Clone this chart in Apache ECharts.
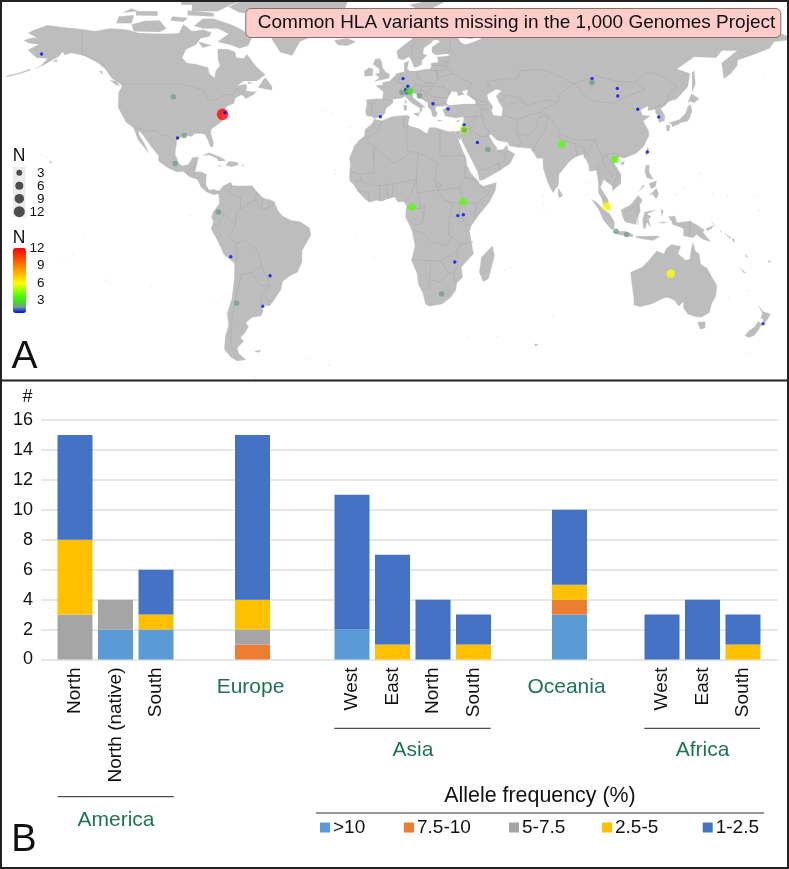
<!DOCTYPE html>
<html><head><meta charset="utf-8">
<style>html,body{margin:0;padding:0;background:#fff}#c{width:789px;height:869px}</style>
<script src="https://cdn.jsdelivr.net/npm/echarts@6/dist/echarts.min.js"></script>
</head><body><div id="c"></div>
<script>
// ---------- Panel B data ----------
const columns = ['North','North (native)','South','Europe','West','East','North','South','Oceania','West','East','South'];
const freqNames = ['>10','7.5-10','5-7.5','2.5-5','1-2.5'];
const freqColors = ['#5B9BD5','#ED7D31','#A5A5A5','#FFC000','#4472C4'];
const above10  = [0,2,2,0,2,0,0,0,3,0,0,0];
const f75to10  = [0,0,0,1,0,0,0,0,1,0,0,0];
const f5to75   = [3,2,0,1,0,0,0,0,0,0,0,0];
const f25to5   = [5,0,1,2,0,1,0,1,1,0,0,1];
const f1to25   = [7,0,3,11,9,6,4,2,5,3,4,2];
const sizeLegendValues = [3,6,9,12];
const colorLegendValues = [12,9,6,3];

// ---------- Panel A data: [lon, lat, N] ----------
const sites = [
[-159.8,60.4,1],[-98.7,44.2,2],[-75.8,37.6,12],[-74.7,38.2,1],[-96.7,28.7,1],[-93.6,29.6,2],[-97.8,19.1,2],
[-2.6,36.7,1],[7.9,51.1,1],[10.1,48.2,1],[9.1,46.9,1],[9.7,45.7,1],[7.4,45.8,2],[10.8,46.3,3],[15.5,44.5,2],
[21.8,41.6,1],[28.8,39.6,1],[36.3,33.6,1],[36.3,31.7,5],[36.3,31.7,2],[42.4,27,1],[47.3,24.3,2],[81.5,26.4,4],
[106.3,20.6,4],[95.6,51.1,1],[95.6,49.6,2],[107.3,47.4,1],[107.5,44.5,1],[116.8,39.5,1],[126.5,36.6,1],[121.3,23.4,1],
[-77.8,0.75,2],[-72,-16.1,1],[-53.8,-23.3,1],[-69.3,-33.7,2],[-57.2,-34.8,1],
[12.2,2.6,4],[35.7,4.6,4],[33.3,-0.6,1],[35.9,-0.3,1],[31.9,-18.1,1],[25.8,-30.2,2],
[102.4,2.8,6],[106.7,-6.5,2],[111.7,-7.7,2],[132.1,-22.5,6],[174.9,-41.4,1]
];

// ---------- Base map outlines, flat lon,lat lists ----------
const northAmerica=[-168,65.6,-164,66.5,-162,66.4,-163,67,-166,68.3,-163,69.5,-157,71.2,-150,70.5,-141,69.7,-135,69,-128,70,-124,69.8,-120,69.5,-115,68.3,-108,68,-100,68,-96,68.2,-94,71.5,-90,69,-85,69.5,-81,68.5,-82,67,-86,66.3,-88,64,-93,62,-94.5,59,-92.5,57,-88,56.5,-82.5,55.2,-82,52.9,-79.5,51.3,-79,54,-77,56,-78,58.7,-78,62.3,-73,62.2,-70,61,-69.5,59,-66,58.7,-64.5,60.3,-62,57.5,-60,55.5,-56,52.5,-60,50.2,-66,50.2,-69,48.5,-65,49,-64.5,48,-65,46.5,-61,46,-60,46.8,-61,45.3,-65,43.5,-66,44.3,-67,45,-70,43.7,-70.5,41.8,-74,40.6,-75.5,38,-76,36.8,-75.5,35.3,-78,33.9,-81,32,-81.4,30.5,-80,27,-80.3,25.3,-81.5,25.5,-82.7,28,-84,30,-86,30.4,-89,30.3,-90,29.2,-93.5,29.7,-97,28,-97.5,25,-97.8,22.5,-96,19,-94.5,18.2,-92,18.6,-90.5,20,-90,21.2,-87,21.5,-87.5,19.5,-88.2,17,-88.8,15.9,-86,15.9,-83.3,15,-83.6,11,-82,9,-80,9.3,-77.5,8.7,-77.5,8,-78,7.5,-80,7.3,-83,8.2,-85.7,10,-87.5,13,-91,14,-94,16,-97,15.8,-101.5,17.5,-105.5,20,-105.5,22,-109,25.5,-112.5,29.5,-114.7,31.5,-114.7,30,-112,26.5,-110,23,-112,25,-115,28,-117.1,32.5,-120.5,34.5,-122.5,37.5,-124.3,40.3,-124,46,-122.5,48,-123,49,-127,51,-130,54.5,-133.5,57,-137,58.5,-140,59.7,-146,60.8,-149,60,-150,61.2,-152,59.3,-154,58.5,-158,56.5,-163,54.8,-160,56,-157,58.7,-162,59,-165,61,-166,62,-161,64,-166,64.5];
const southAmerica=[-77.5,8.5,-75.5,10.7,-72,12,-71.5,10.8,-68,10.6,-62,10.7,-60,8.5,-57,6,-52,4.8,-50,1,-48,-0.8,-44,-2.5,-40,-2.8,-35.5,-5.2,-34.8,-8,-37,-11,-39,-14,-39,-18,-41,-22,-44,-23,-48,-25.5,-48.7,-28.5,-52,-32.5,-54,-34.7,-58,-34.2,-57,-36.5,-58,-38.5,-62,-39,-65,-41,-63.8,-42.5,-65.5,-45,-67.5,-46.5,-66,-48,-69,-50.5,-68.4,-52.5,-65,-55,-69,-55.5,-72,-54,-75,-51,-74.5,-46,-73,-42,-73.7,-37.5,-71.5,-32,-70.3,-24,-70.3,-18.5,-75,-15.5,-78.5,-9.5,-81.2,-5.5,-80,-3,-81,-1,-80,1,-78.5,2.5,-77.3,4,-77.5,7];
const africa=[-17,14.7,-16.5,19,-17,21,-14.5,26,-10,29.5,-9.7,32,-6.5,34,-5.5,35.8,-2,35.2,3,36.8,10,37.3,11,36.8,10.2,34,11,33.2,15.5,32.2,19,30.3,20,32.5,23,32.6,29,31,32,31.2,32.5,29.9,33.5,28,35.5,24,37.2,21,37.5,18.5,39.5,15.3,43.2,12,43.3,11.5,45,10.5,51.2,11.9,50.8,9,48,4.5,43,-0.5,39.5,-4.5,38.8,-6.5,39.5,-10,40.6,-15,35,-20,35.5,-24,32.8,-26,32.5,-28.5,30,-31.5,26,-34,20,-34.8,18.3,-34,17,-29.5,15,-26.5,14.4,-22.5,11.8,-17.5,13.5,-12,12,-6,9,-1,9.5,3,8.5,4.6,5.5,4.5,4,6.4,1,5.8,-2,4.8,-4.5,5.2,-7.5,4.4,-9.5,5.5,-13,8.5,-15,11,-16.8,12.5];
const sinai=[32.3,31.2,34.2,31.3,34.9,29.5,34.3,27.8,33,29,32.5,30];
const eurasia=[-9,37,-9.5,38.7,-8.8,41.8,-9.2,43.1,-4,43.5,-1.6,43.4,-1.2,46,-4.6,48.4,-1.5,48.7,-1.5,49.7,1.5,50.1,3.5,51.4,4.8,53,8.5,53.7,8.5,55.5,8.3,57,10.6,57.7,10.2,56,9.8,54.8,11,54,14,54,18.5,54.7,20,54.5,21,55.5,21,57,24,57.2,24.3,58.3,23.5,59.2,28,59.5,30,60,28,60.5,23,60,21.3,61,21.3,63,25,65,24,65.8,22,65.6,21,64.6,17.5,62.5,17.2,60.5,19,59.8,16.7,58,16.5,56.3,14.3,55.5,13,55.4,12.5,56.5,11.3,58.8,10.5,59.3,8,58.1,5.5,58.8,5,61.5,8,63.5,12,66,15,68.5,20,70,25.5,71,31,70.3,36,69.3,41,67.3,40,66,35,66.5,33,66.7,35,64.5,37,64,40,64.7,44,66,44,68.2,54,68.5,60,69,68,68.5,67,71,69,73,73,71.5,74,68,75,72,80,73.5,87,75,98,76,104.5,77.7,113,74,125,73.5,130,71,140,72.7,150,71.5,160,69.7,170,70,180,69,190,66,180,65,178,62.5,170,60,163,58,163,56,160,53,156.7,51,155.7,57,163,61.7,156,61.7,153,59,143,59.3,135,54.7,141,53,140,48,135,43.5,130.7,42.3,129.7,41,127.5,39.8,129.4,37,129.2,35.2,126.5,34.5,126.5,37,125,38,125,39.5,121.5,39,121.7,40.8,118,39.2,119,37.3,122.5,37,119.3,35,121.8,31.5,122,29.5,119.5,25.5,116,22.8,110.5,21,108,21.6,106,19,109,15,109,11.5,105,8.7,105,10.5,101,13,99.5,10,103,5.5,104,1.4,101,3,100,6,98.5,8,98.6,12,97.6,16.5,94.4,16,94,18.5,91.5,22.5,89,21.8,87,21,85,19.7,80.3,15,80,11,77.5,8,75,12,73,17,72.8,21,70,21,69,22.5,67,24.8,62,25.1,57.3,25.7,56.5,27,51.5,27.8,48.5,30.2,47.8,29.5,50,26.5,51.5,25,51.3,24.2,54,24.2,56.3,26,56.5,24.3,59.8,22.5,57.5,19,52,16,45,12.8,43.3,12.7,42.5,16,39,21.5,35,28,34.9,29.5,34.3,31.3,35,33,36,35,36,36.8,33,36.2,30.5,36.5,27.5,37,26.3,39.3,29,41,31,41.1,36,41.5,41.5,41.5,41.5,42.8,37.5,45,38,47,35,46.2,36.5,45.3,33.5,44.5,33,46,30.5,46.3,28.5,43.5,28,41.8,29,41.1,26.3,40.6,24,40.7,23,40.3,23,39,24,38,23,36.5,21.5,37,21,39,19.5,40.5,19.5,42,15.5,44,13.7,45.6,12.3,45.4,12.5,44,16,41.8,18.5,40,17,40.5,16.5,38.9,15.7,38,15.8,40,12.5,41.5,10.5,43,8.8,44.4,7,43.7,3.2,43.3,3.2,41.9,0,39.8,-0.5,38,-2,36.8,-5.5,36,-6.5,36.8];
const caspian=[47,45,51,47,53.5,46.5,51,44.5,52.5,42,54,40,53.7,37,50,37.3,49,39,49.7,40.5,47.5,43];
const australia=[113.5,-22,114,-26,115,-32,115,-34.3,118,-35,123.5,-33.9,129,-31.6,131,-31.5,134,-32.7,135.8,-34.8,138,-33,138,-35.5,140,-37.7,143.5,-38.8,146.3,-39,150,-37.3,151,-34,153,-31,153.5,-27,151,-23.5,149,-20.5,146,-19,145.3,-15,143.5,-14,142.5,-10.8,141.6,-13,141,-17,139,-17.5,135.5,-15,136.7,-12.2,132.5,-11.5,130,-13,129,-15,125.5,-14,122,-17.5,119,-20,114,-21.8];
const islands=[
[-80,73.7,-72,71.5,-68,70,-62,67,-64,63.5,-68,62.5,-72,63.8,-78,65,-73,68,-78,70,-85,70,-89,71,-85,73.7],
[-117,69,-105,68.7,-102,70,-105,73,-112,72.8,-118,71.5],[-125,72,-118,72,-117,75,-124,74.5],
[-90,76.5,-78,76.5,-72,79,-62,82,-70,83,-90,81.5],[-92,75,-80,74.5,-80,75.8,-92,76.8],[-116,75,-106,74.8,-106,76.5,-116,76.5],
[-95,79,-87,79,-88,81,-95,81],[-87,65,-81,63.7,-85,62.7],[-100,73,-94,72.5,-92,74,-99,74.5],[-122,76,-115,76.5,-118,77.5],
[-59.3,47.7,-53,46.7,-52.8,48,-56,51.5,-57.5,50],[-128,50.5,-125,50,-123.5,48.4,-125.5,48.8],[-133,54,-131.7,54,-131.5,52.5],
[-154.5,57.5,-152.3,57.5,-153,58.3],[-64,49.9,-61.8,49.3,-64,49.2],
[-165,54.2,-170,52.9,-176,51.7,-176,52.1,-170,53.3,-165,54.7],
[-85,22,-82,23.1,-77,21.5,-74.2,20.2,-77.7,19.9,-78.5,21,-82,22.3],[-74.4,18.4,-72.8,19.9,-69,19.5,-68.4,18.6,-71.5,17.8],
[-78.3,18.4,-76.3,18.1,-77,17.8],[-67.2,18.5,-65.7,18.4,-66.5,18],
[-73,78.2,-68,76,-58,75.5,-54,71,-51,69,-53,66,-49,61,-43.5,59.8,-40,65,-32,68,-22,70.5,-20,75,-18,80,-25,83,-40,83.5,-60,82,-68,80],
[-24,65.5,-18,66.3,-14,65,-18,63.5,-22.5,63.9],[-61,-51.8,-58,-51.3,-59,-52.3],
[49.3,-12,50.4,-15.5,47.5,-24.5,45,-25.5,43.3,-22,44.3,-16.3],
[-5.5,50,1.3,51.2,1.7,52.7,0,53.5,-1.5,55,-2,57.5,-3,58.7,-5,58.5,-6,56.5,-3.2,54.8,-3,53.3,-5,52.7,-3,51.4],
[-10,52,-6.2,52.2,-6,54.7,-8,55.2,-10,54],[12.5,38,15.5,38.2,15,36.7],[8.2,41,9.7,41,9.5,39.2,8.5,39],[8.6,42.5,9.5,43,9.3,41.5],
[23.6,35.5,26.2,35.2,24.5,34.9],[32.5,35,34.5,35.6,33.5,34.6],[11,79,20,80.5,27,80,20,77,15,77],
[52,71,57,70.7,60,75,68,77,60,76.2,54,74],[80,9.7,82,7,80.5,6,79.8,7.5],
[131,34.3,136,35.6,139,38,140,40.5,141.3,41.3,142,39,140.8,36,139.8,35,136.8,34.5,135,33.5,132.5,34],
[130,33.5,131.8,33.5,131.3,31.3,130.3,31.3],[132.5,33.8,134.5,34.2,134,33.4,132.9,32.8],[140,42,141.7,45.4,145.3,43.5,143,42,141,42.5],
[142,46,143.5,49,143,54,142,53.5,142,50],[120.2,23,121.5,25.2,121.8,24.5,120.8,22],[108.7,19.2,110.7,20,110,18.3],
[120,16,120.6,18.5,122.2,18.4,122,16,124,13,121,13.7],[122,7,125.5,9.7,126.5,7.5,125.4,5.7,123.5,7.5],[122,11.5,125.5,12.5,125,10.3,123,9.5],[117.3,8.5,119.5,11.2,119.7,10.5],
[109,1.5,111.3,2.5,113,3.2,115,5,117,7,119,5.2,117.7,3.5,118,1,116.5,-1.5,116,-4,111,-3,110,-1.5],
[95.3,5.6,98,4.2,100.5,2,103.8,0,106,-3,105.8,-5.8,104.5,-5.8,101,-2.5,98.7,1.7],
[105.2,-6.8,108,-6.5,111,-6.5,114.5,-7.7,114.5,-8.7,108,-7.8],[116,-8.4,119,-8.4,123,-8.3,125,-8.3,127,-8.5,124,-10,120,-9.5,116,-9],
[119.5,-5.5,119,-2.5,120,0.8,125,1.5,121,0,123,-1,121.8,-2,122.8,-5,121,-3,120.4,-5.5],
[127.5,2,128.7,1,128,-0.8],[126,-3.2,130.5,-3,129,-3.5],
[131,-1,134,-0.8,135,-3.3,141,-2.6,145,-4.5,147.8,-6,147,-6.8,150.5,-10.5,147,-9.5,144,-7.7,142.5,-9,138,-8.3,138,-5.5,133,-4,132.5,-2.8],
[148.5,-5.6,152,-4.2,151,-5.6,149,-6.3],[150.8,-2.7,152.8,-4.5,152,-3.7],[155,-6,156,-7,155.5,-6.9],[157,-7.2,160,-9,159.5,-9.3],[161,-9,162,-10.7,160.5,-9.8],
[164,-20.2,167,-22.3,166,-22.2],[166.8,-15,167.8,-16.5,167,-16.2],[177.3,-17.5,178.7,-18,177.5,-18.3],
[144.7,-40.7,148.2,-40.8,148,-43,146,-43.5,145,-42],
[172.8,-34.5,174.8,-36.8,178.4,-37.7,176.8,-40,175.2,-41.6,174.8,-39.5,173.8,-39.2,174.6,-37.5],
[172.7,-40.5,174.3,-41.7,172.8,-43.8,170.7,-45.9,168.3,-46.6,166.5,-45.9,168.5,-44,171,-42.5],
[68.8,-49,70.5,-49.2,69.5,-49.9],[-156,20.2,-155,19.7,-155.7,19]
];
const specks=[-157.9,21.4,-159.5,22,-149.5,-17.6,-145,-15,-140,-9,-171.8,-13.8,-175.2,-21.1,-91,-0.5,-78.8,-33.6,-109.3,-27.1,-130,-25,-25.5,37.8,-28,38.6,-16.5,28.3,-14,28.5,-16.9,32.7,-24,15,-23.5,16.7,-14.4,-7.9,-5.7,-16,57.5,-20.2,55.5,-21.1,73,4,73.3,-0.6,72.4,7,93,12,93.5,7.5,145.7,15.2,144.8,13.5,134.5,7.4,138,9.5,151.8,7.5,158.2,6.9,171,7,173,1.3,167.4,-29,159,-31.5,-178,-30,168.6,-52.5,78,-38.5,37.7,-46.8,51.7,-46.4,-37,-54.3,-26.5,-57,-60.5,-62,175,52.5];

// ---------- Country borders, flat lon,lat lists ----------
const borders=[
[-141,69.7,-141,60.2,-137,59,-134,58,-130,55.5],[-123,49,-95,49,-89.5,48,-84.5,46.5,-82.5,43,-79,43,-75,45,-71,45,-69,47.4,-67.5,45.5],
[-117.1,32.5,-114.7,32.5,-111,31.3,-106.5,31.7,-104,29.5,-101,29.7,-97.2,25.9],[-92.2,14.5,-91,17,-89.1,17.9,-88.3,18.4],[-89.1,17.9,-89.2,15.9],[-89.2,15.9,-89.2,14],[-87.7,13.2,-85,15],[-83.7,11,-85.7,11],[-83,8.3,-82.8,9.6],[-77.3,8.7,-77.8,7.3],
[-71.5,11.5,-72.5,8,-67.5,6,-67.5,2,-67,1.7],[-67,1.7,-69.5,1,-70,-4.2],[-70,-4.2,-75,-0.2,-78.8,1.4],[-75,-0.2,-78.5,-4.5,-80.3,-3.4],[-70,-4.2,-73,-9,-69.5,-11],[-69.5,-11,-69,-16,-70,-17.8],[-70.3,-18.3,-69,-17.5],[-69.5,-11,-65.3,-10,-60,-13.5,-58,-17.5,-58,-20],[-58,-20,-62.5,-22],[-62.5,-22,-67,-23],[-67,-23,-70,-32,-71.5,-40,-72,-50,-69,-52],[-62.5,-22,-58,-27,-54.6,-27],[-58,-20,-55,-24,-54.6,-25.5],[-54.6,-25.5,-54,-27,-57.6,-30],[-57.6,-30,-53.4,-33.5],[-57.6,-30,-58.3,-34],[-67,1.7,-64,4,-60.7,5.2],[-60.7,5.2,-60,8.5],[-60.7,5.2,-58,1.5],[-58,1.5,-54.5,2.3,-52,3.8],[-57,6,-58,1.8],[-54,5.8,-54.5,2.3],
[-1.6,43.4,3.2,42.4],[-8.8,41.9,-6.5,41.8,-7,37.2],[2.5,51,6,49.5,8.2,49,7.6,47.6,6,46.3,7.5,45.8,7.5,43.8],[6,51,7,53.3],[3.4,51.4,6,51,6,49.5],[14.2,54,15,51],[15,51,12.2,50.2,13.8,48.7],[7.6,47.6,13,47.6,13.8,48.7],[7.5,45.8,12,47,13.7,46.5,13.7,45.6],[13.8,48.7,17,48.7,16.2,46.8,13.7,46.5],[15,51,19,49.5,22.7,49,24,51,23.5,54,19,54.4],[17,48.7,19,49.5],[17,48,22,48.4],[16.2,46.8,19,46,22,48],[22,48,26.5,48.3,28.2,45.5,29.7,45.2],[22.5,44.2,28.5,43.7],[19,46,22.5,44.2,22.5,41.3,26.3,41.5,28,42],[13.7,45.6,19,44.8,19,46],[15.8,44.5,19,42.5],[19.5,42,20.5,40],[20.5,40,23,41.3],[19.5,42,22.5,42.2],
[21,56.2,28,56],[24.3,58,28,57.5],[22.5,54.3,27,54,28,56],[23.5,54,24,51.5,31,53,28,56],[31,53,35,51,40,49.5,38,47],[26.5,48.3,30,46],[28,56,30,60],
[12,60,12.5,64,18,68.5,21,69,25,69,29,69.8],[24,65.8,21,69],[29,69.8,30,62,28,60.5],
[49,46.5,47,50,55,51,61,51,62,54,72,54.5,77,53.3,87,49.2],[87,49.2,98,52,107,50,116,49.8],[116,49.8,120,53.3,126,53,135,48.3,131,45,130.7,42.3],[87.8,49.2,91,45.5,96,42.7,105,41.7,112,44.5,120,47,116,49.8],[87,49.2,80.5,45,80,42.2],[52.5,42,56,45,61,44,66,41,70,42,74,43,80,42.2],[54,37.5,61,35.5,66,37.3,71,38.3,75,37.2],[74,40,80,42.2],[66,41,62,43.5],[56,41.3,60,42],[71,38.3,74,40],
[75,37.2,79,33,81,30,88,27.8,92,28,97,28,98,25,101,21.3,102,22.5,106,23,108,21.6],[81,30,80,28.7,88,26.4],[88,26.4,88.5,22],[89,26,92,25,92,21],[61,35.5,60.8,30,63,27,61.5,25.2],[61,29.8,66,29.8,70,33,71,36.5,75,37.2],[75,37,74,32,70,27,68.3,23.8],[97,28,94,24,92.5,21.5],[101,21.3,98,18,99,11],[101,21.3,100.5,19.5,105,14.5,102.5,12],[102,22.5,105,18.5,107.5,15,105.5,10.8],[100.2,6.5,102,6.2],
[44.5,37.3,46,33,48.5,30],[36,36.5,44.5,37],[44.5,37.2,44.3,39.5,41.5,41.5],[41.5,41.5,44.3,41,47,41.5],[40,43.5,47.5,42],[44.3,39.5,48,39.5],[42,37,41,34.5,39,32.2],[35,29.5,39,32.2,44,29.2,47.8,29.5],[36,32.3,39,32.2],[35.7,33,42,37],[43,16.5,47,17,52,19,55,20,56,24],[52,19,53,16.5],[52,24,55.5,22.5],[124.5,40,130.7,42.3],[126.5,38,128.5,38.5],
[-2,35,-4,31,-8.7,28.7,-13,27.7],[-8.7,27.3,-5,25,-6,21],[-5,25,1,21,4,19],[4,19,12,23.5],[10,33,9.5,30,10,24,12,23.5],[8.5,37,8,33,10,33],[12,23.5,15,23,24,19.5],[25,31.6,25,22],[25,22,36.8,22],[24,19.5,22.5,13,24,9],[-12,15,-5.5,15.5,-6,25],[-16.5,16,-12,15,-11.5,12.5,-15,12.3],[3.5,11.5,14,13,15,23],[14,13,11,6.7,8.5,4.6],[2.7,6.3,3.5,11.5],[1,5.8,0,11],[-3,5,-3,11],[-11.5,12.5,-5,10.5,3.5,11.5],[-13,9,-8,8,-8,4.5],[14,13,15,8,24,9,27.5,5,34,4,36,4.5],[15,8,16,2,9.8,2.3],[16,2,18,3.5,17,-3.5,13,-4.5],[27.5,5,31,3.7,29.5,-1.3,29,-8,30.5,-8.3],[34,4,34,-1,37.5,-3.3,39.2,-4.7],[29.5,-1.3,34,-1],[30.5,-8.3,34.5,-11.5,40.5,-10.5],[34.5,-11.5,33,-14],[12.3,-6,17,-7,22,-11,24,-11,28,-12,30.5,-8.3],[11.8,-17.3,23.5,-17.7,25,-17.8],[25,-17.8,30,-15.7,33,-14],[33,-14,33,-20,31.3,-22.3],[25.3,-17.8,29,-22.2,31.3,-22.3],[20.9,-18.3,20,-24.7,20,-28.3,16.5,-28.6],[20,-24.7,25,-25.7,29,-22.2],[31.3,-22.3,32,-26.5],[43,11,48,8,42,4,41,-1.5],[36,4.5,42,4],[36.8,14,34,10,36,4.5],[36.8,18,36.8,14,43,12.3],[24,9,25.5,11,22.5,13],[34,10,24,9],
[28,-28.6,29.4,-29,29.2,-30,28,-30.4,27,-29.6,28,-28.6],
[141,-2.6,141,-9],[117,-4,116.5,4.2,114,2,111,1]
];

// ---------- Helpers (geometry conversion, no chart values) ----------
const pairs=a=>{const r=[];for(let i=0;i<a.length;i+=2)r.push([a[i],a[i+1]]);return r;};
const feat=(name,flat)=>{const ring=pairs(flat);ring.push(ring[0]);return {type:'Feature',properties:{name},geometry:{type:'Polygon',coordinates:[ring]}};};
const features=[feat('North America',northAmerica),feat('South America',southAmerica),feat('Africa',africa),feat('Sinai',sinai),feat('Eurasia',eurasia),feat('Australia',australia)];
islands.forEach((p,i)=>features.push(feat('island'+i,p)));
pairs(specks).forEach((p,i)=>{const r=0.35;features.push(feat('speck'+i,[p[0]-r,p[1],p[0],p[1]+r,p[0]+r,p[1],p[0],p[1]-r]));});
features.push(feat('Caspian',caspian));
echarts.registerMap('world',{type:'FeatureCollection',features});

const FONT='"Liberation Sans",Arial,sans-serif';
const GREEN='#1F7350';
const sizeForN=n=>n<=1?3.4:n<=2?5.5:n<=4?7.5:n<=6?8.5:3+n*0.72;
const rampColors=['#0000ff','#6f9f88','#3fe020','#55ff00','#aaff00','#ffff00','#ffd500','#ffaa00','#ff8000','#ff5500','#ff2a00','#ff0000'];

// five bar panels laid out side by side, sharing one value scale
const groups=[{from:0,to:3,left:54.75,w:121.5,strong:false},{from:3,to:4,left:232.25,w:40.5,strong:true,pad:4},{from:4,to:8,left:331.75,w:162,strong:false},{from:8,to:9,left:549.25,w:40.5,strong:true,pad:6},{from:9,to:12,left:641.75,w:121.5,strong:false}];
const freqData=[above10,f75to10,f5to75,f25to5,f1to25];
const GT=420,GH=239.5;
const grid=[{left:41,width:737,top:GT,height:GH}],xAxis=[{gridIndex:0,type:'value',show:false,min:0,max:1}],
 yAxis=[{gridIndex:0,type:'value',min:0,max:16,interval:2,axisLine:{show:false},axisTick:{show:false},
  axisLabel:{fontFamily:FONT,fontSize:18,color:'#111',margin:8},splitLine:{show:true,lineStyle:{color:'#dedede',width:1.5}}}];
const series=[
 {type:'lines',coordinateSystem:'geo',polyline:true,silent:true,z:2,lineStyle:{color:'#aaaaaa',width:0.6,opacity:1},data:borders.map(b=>({coords:pairs(b)}))},
 {type:'scatter',coordinateSystem:'geo',silent:true,z:3,data:sites,symbolSize:v=>sizeForN(v[2]),itemStyle:{opacity:0.78}}
];
groups.forEach((g,i)=>{
 const k=i+1;
 grid.push({left:g.left,width:g.w,top:GT,height:GH});
 xAxis.push({gridIndex:k,type:'category',data:columns.slice(g.from,g.to),axisLine:{show:false},axisTick:{show:false},
  axisLabel:g.strong?{interval:0,fontFamily:FONT,fontSize:21,color:GREEN,margin:17,padding:[0,g.pad,0,0]}:{interval:0,rotate:90,fontFamily:FONT,fontSize:19,color:'#111',margin:8,padding:[3,0,0,0]}});
 yAxis.push({gridIndex:k,type:'value',min:0,max:16,interval:2,show:false,splitLine:{show:false}});
 freqNames.forEach((n,j)=>series.push({type:'bar',name:n,xAxisIndex:k,yAxisIndex:k,stack:'g'+k,barWidth:35,silent:true,
  itemStyle:{color:freqColors[j]},data:freqData[j].slice(g.from,g.to)}));
});
const legendX=[320,404,509,602,702.7];
const legend=freqNames.map((n,i)=>({data:[n],left:legendX[i],top:818,padding:0,itemWidth:10,itemHeight:10,itemGap:0,icon:'rect',selectedMode:false,
 textStyle:{fontFamily:FONT,fontSize:19,color:'#111',padding:[0,0,0,-2]}}));

const txt=(text,x,y,size,color,align)=>({type:'text',z:20,x,y,silent:true,style:{text,font:size+'px '+FONT,fill:color||'#111',align:align||'center',verticalAlign:'middle'}});
const seg=(x1,y1,x2,y2,c,w)=>({type:'line',z:20,silent:true,shape:{x1,y1,x2,y2},style:{stroke:c||'#222',lineWidth:w||1}});
const graphicEls=[
 {type:'rect',z:19,silent:true,shape:{x:245.8,y:8.5,width:535,height:29,r:5},style:{fill:'#ffcccc',stroke:'#8a6f60',lineWidth:1}},
 txt('Common HLA variants missing in the 1,000 Genomes Project',516.5,22.5,19,'#111'),
 {type:'rect',z:19,silent:true,shape:{x:13,y:167,width:12.5,height:50},style:{fill:'#ebebeb'}},
 txt('N',19,156.5,17.5),txt('N',19,238.5,17.5),
 txt('#',27.5,397.5,18),
 txt('A',24.5,357,39),txt('B',24,841,38),
 seg(57.7,796.7,173.7,796.7),seg(334.3,728.3,490.7,728.3),seg(644.3,728.3,760,728.3),seg(316,813,764,813,'#333',1.2),
 txt('America',116,820.5,21,GREEN),txt('Asia',413,750.5,21,GREEN),txt('Africa',702.5,750.5,21,GREEN),
 txt('Allele frequency (%)',540,796.5,21.4),
 seg(1,380.5,788,380.5,'#222',2),
 {type:'rect',z:21,silent:true,shape:{x:1,y:1,width:787,height:867},style:{fill:'none',stroke:'#222',lineWidth:2}}
];
const dotDiam=[6,8,9.5,11], dotY=[172.7,185.7,198.7,211.7];
sizeLegendValues.forEach((v,i)=>{
 graphicEls.push({type:'circle',z:20,silent:true,shape:{cx:19.3,cy:dotY[i],r:dotDiam[i]/2},style:{fill:'#4d4d4d'}});
 graphicEls.push(txt(String(v),44.5,dotY[i]+0.5,13.5,'#111','right'));
});
const barLabelY=[248.7,265.7,283,300.7];
colorLegendValues.forEach((v,i)=>graphicEls.push(txt(String(v),44.5,barLabelY[i],13.5,'#111','right')));

const chart=echarts.init(document.getElementById('c'),null,{renderer:'canvas'});
chart.setOption({
 animation:false,backgroundColor:'#fff',
 geo:{map:'world',silent:true,roam:false,left:-2,top:0,width:776,height:380,boundingCoords:[[-180,80.75],[180,-62.64]],
  itemStyle:{areaColor:'#bdbdbd',borderColor:'#bdbdbd',borderWidth:0.2},
  regions:[{name:'Caspian',itemStyle:{areaColor:'#fff',borderColor:'#fff'}}],
  label:{show:false},emphasis:{disabled:true},select:{disabled:true}},
 grid,xAxis,yAxis,series,legend,
 visualMap:{type:'continuous',seriesIndex:1,dimension:2,min:1,max:12,left:13,top:248,itemWidth:13,itemHeight:65,padding:0,
  calculable:false,realtime:false,hoverLink:false,text:null,showLabel:false,inRange:{color:rampColors},textStyle:{fontSize:1,color:'rgba(0,0,0,0)'}},
 graphic:{elements:graphicEls}
});
</script></body></html>
